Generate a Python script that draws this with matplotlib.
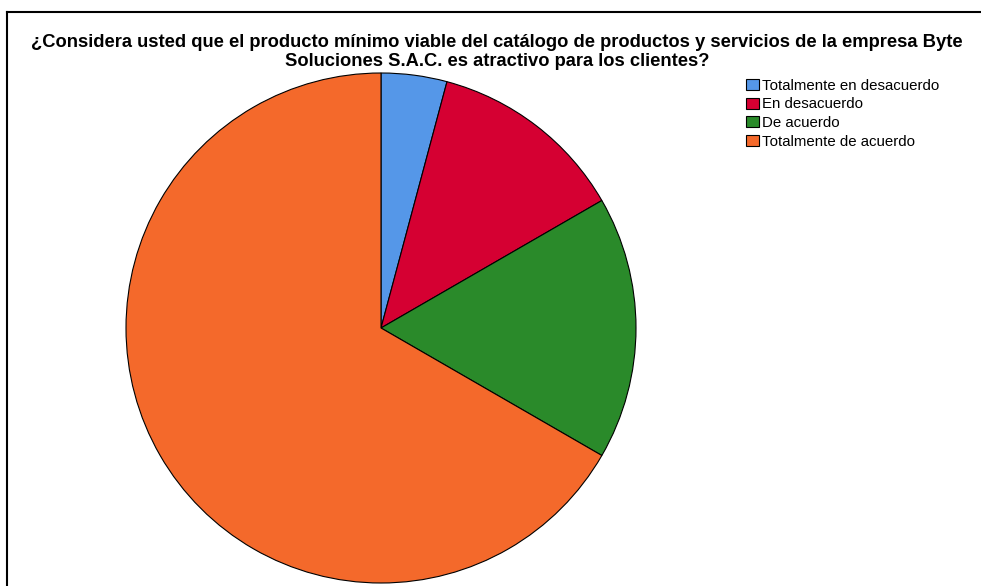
import matplotlib.pyplot as plt
from matplotlib.lines import Line2D
from matplotlib.patches import Patch

plt.rcParams['font.family'] = ['Liberation Sans', 'DejaVu Sans']

# Respuestas a la pregunta (frecuencias)
categorias = ['Totalmente en desacuerdo', 'En desacuerdo', 'De acuerdo', 'Totalmente de acuerdo']
frecuencias = [1, 3, 4, 16]
colores = ['#5597E8', '#D50032', '#2A8A2A', '#F4692B']

titulo = ('¿Considera usted que el producto mínimo viable del catálogo de productos y servicios de la empresa Byte\n'
          'Soluciones S.A.C. es atractivo para los clientes?')

fig = plt.figure(figsize=(9.81, 5.86), dpi=100)

# Marco superior e izquierdo
fig.add_artist(Line2D([7 / 981, 1], [1 - 12 / 586, 1 - 12 / 586], color='black', lw=1.5))
fig.add_artist(Line2D([7 / 981, 7 / 981], [0, 1 - 12 / 586], color='black', lw=1.5))

ax = fig.add_axes([126 / 981, 3 / 586, 510 / 981, 510 / 586])
ax.pie(frecuencias, colors=colores, startangle=90, counterclock=False,
       wedgeprops={'edgecolor': 'black', 'linewidth': 0.8})
ax.set_xlim(-1, 1)
ax.set_ylim(-1, 1)
ax.set_aspect('equal')
ax.axis('off')

fig.text(497 / 981, 1 - 52 / 586, titulo, ha='center', va='center', fontsize=13.2,
         fontweight='bold', linespacing=1.08)

handles = [Patch(facecolor=c, edgecolor='black', linewidth=0.8) for c in colores]
fig.legend(handles, categorias, loc='upper left', bbox_to_anchor=(746 / 981, 1 - 79 / 586),
           frameon=False, fontsize=10.8, handlelength=0.85, handleheight=0.75,
           handletextpad=0.25, labelspacing=0.3, borderpad=0, borderaxespad=0)

fig.savefig('out.png', dpi=100)
